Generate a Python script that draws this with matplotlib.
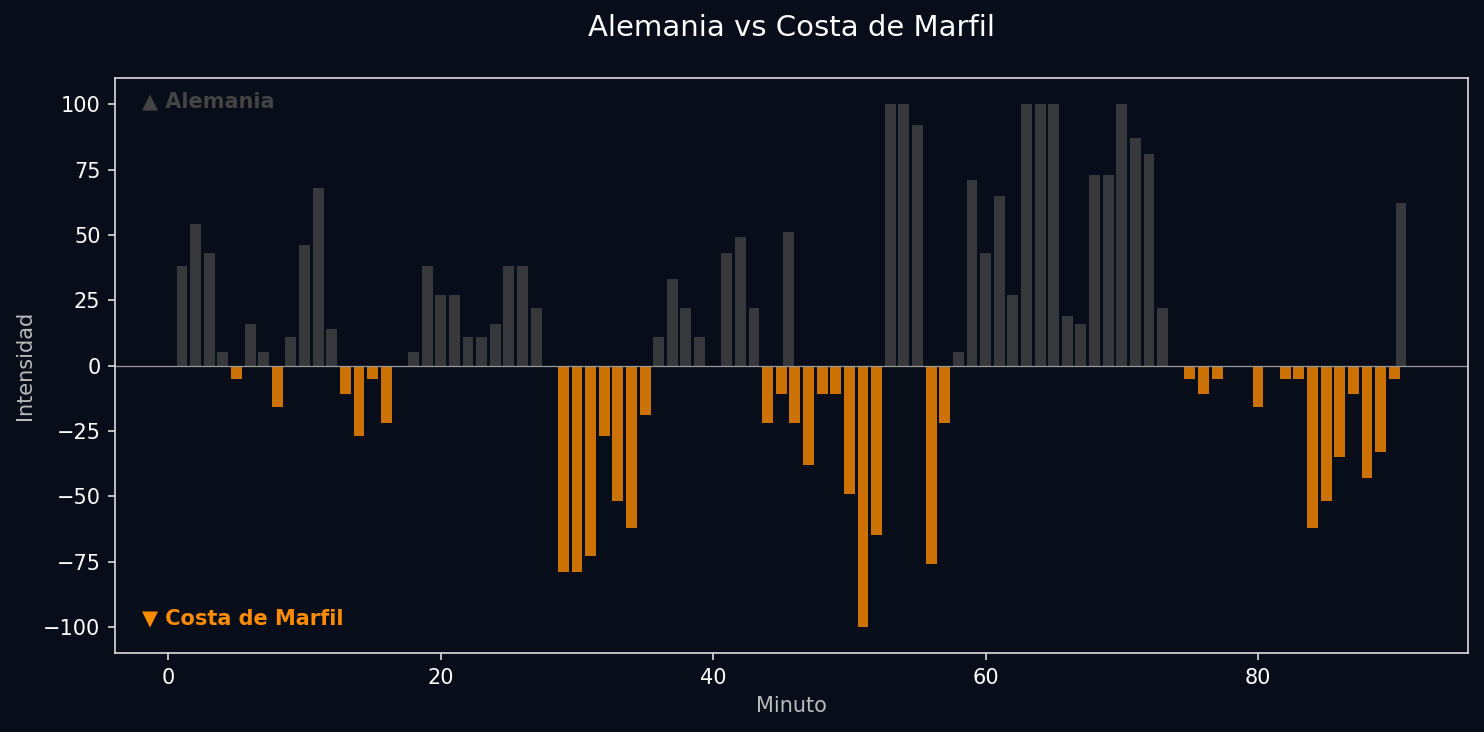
import matplotlib.pyplot as plt

# minutes (45.5 and 90.5 = added time) and intensity (+ home / - away)
minutes = [1, 2, 3, 4, 5, 6, 7, 8, 9, 10,
           11, 12, 13, 14, 15, 16, 17, 18, 19, 20,
           21, 22, 23, 24, 25, 26, 27, 28, 29, 30,
           31, 32, 33, 34, 35, 36, 37, 38, 39, 40,
           41, 42, 43, 44, 45, 45.5, 46, 47, 48, 49, 50,
           51, 52, 53, 54, 55, 56, 57, 58, 59, 60,
           61, 62, 63, 64, 65, 66, 67, 68, 69, 70,
           71, 72, 73, 74, 75, 76, 77, 78, 79, 80,
           81, 82, 83, 84, 85, 86, 87, 88, 89, 90, 90.5]
intensity = [38, 54, 43, 5, -5, 16, 5, -16, 11, 46,
             68, 14, -11, -27, -5, -22, 0, 5, 38, 27,
             27, 11, 11, 16, 38, 38, 22, 0, -79, -79,
             -73, -27, -52, -62, -19, 11, 33, 22, 11, 0,
             43, 49, 22, -22, -11, 51, -22, -38, -11, -11, -49,
             -100, -65, 100, 100, 92, -76, -22, 5, 71, 43,
             65, 27, 100, 100, 100, 19, 16, 73, 73, 100,
             87, 81, 22, 0, -5, -11, -5, 0, 0, -16,
             0, -5, -5, -62, -52, -35, -11, -43, -33, -5, 62]

home_team = 'Alemania'
away_team = 'Costa de Marfil'
home_color = '#444444'
away_color = '#ff8c00'
bg = '#080d1a'

colors = [home_color if v >= 0 else away_color for v in intensity]

fig = plt.figure(figsize=(1484 / 150, 732 / 150), dpi=150, facecolor=bg)
ax = fig.add_axes([0.0775, 0.1079, 0.9117, 0.7855])
ax.set_facecolor(bg)

ax.bar(minutes, intensity, width=0.8, color=colors, alpha=0.8)
ax.axhline(0, color='#999999', lw=0.6)

ax.set_ylim(-110, 110)
ax.set_yticks(range(-100, 101, 25))

ax.text(0.02, 0.96, f'\u25b2 {home_team}', transform=ax.transAxes, color=home_color,
        fontsize=10, fontweight='bold', va='center', ha='left')
ax.text(0.02, 0.06, f'\u25bc {away_team}', transform=ax.transAxes, color=away_color,
        fontsize=10, fontweight='bold', va='center', ha='left')

ax.set_title(f'{home_team} vs {away_team}', color='white', fontsize=14, pad=20)
ax.set_xlabel('Minuto', color='#bbbbbb')
ax.set_ylabel('Intensidad', color='#bbbbbb')
ax.tick_params(colors='#dddddd', labelcolor='white')
for s in ax.spines.values():
    s.set_color('#dddddd')

fig.savefig('out.png', dpi=150, facecolor=bg)
